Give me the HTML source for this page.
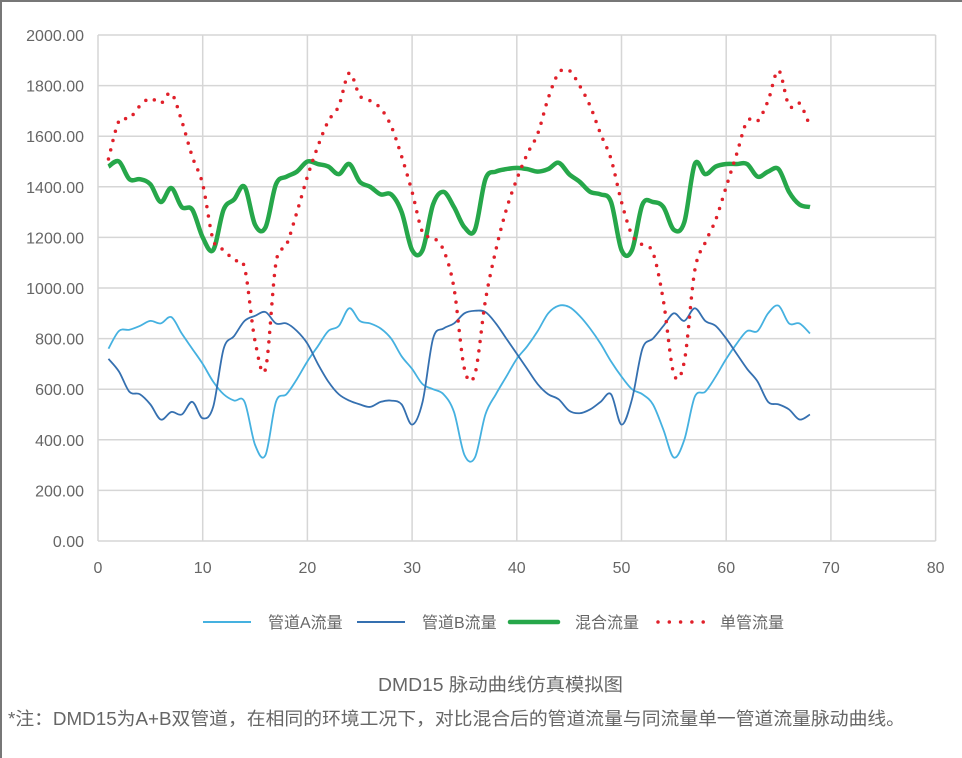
<!DOCTYPE html>
<html><head><meta charset="utf-8"><style>
html,body{margin:0;padding:0;background:#fff}
body{width:962px;height:758px;overflow:hidden;position:relative}
.f{font-family:"Liberation Sans","Noto Sans CJK SC",sans-serif}
</style></head><body>
<div style="position:absolute;left:0;top:0;width:962px;height:758px;border-left:2px solid #777;border-top:2px solid #777;box-sizing:border-box"></div>
<svg id="s" width="962" height="758" style="position:absolute;left:0;top:0" class="f">
<g id="grid" stroke="#d6d6d6" stroke-width="1.5" fill="none"></g>
<g id="lbl" fill="#666" font-size="16" font-family="Liberation Sans, sans-serif"></g>
<g id="lines" fill="none"></g>
<g font-size="16" fill="#666" font-family="Liberation Sans, Noto Sans CJK SC, sans-serif">
<line x1="203" y1="622" x2="251" y2="622" stroke="#45b1e0" stroke-width="2"/>
<text x="268" y="628">管道A流量</text>
<line x1="357" y1="622" x2="405" y2="622" stroke="#3570b0" stroke-width="2"/>
<text x="422" y="628">管道B流量</text>
<line x1="510" y1="622" x2="558" y2="622" stroke="#26a74a" stroke-width="4.5" stroke-linecap="round"/>
<text x="575" y="628">混合流量</text>
<line x1="658" y1="622" x2="704" y2="622" stroke="#e0202a" stroke-width="3.5" stroke-linecap="round" stroke-dasharray="0 11.3"/>
<text x="720" y="628">单管流量</text>
</g>
<text x="378" y="691" textLength="245" lengthAdjust="spacingAndGlyphs" font-size="18" fill="#666" font-family="Liberation Sans, Noto Sans CJK SC, sans-serif">DMD15 脉动曲线仿真模拟图</text>
<text x="8" y="725" textLength="897" lengthAdjust="spacingAndGlyphs" font-size="18" fill="#666" font-family="Liberation Sans, Noto Sans CJK SC, sans-serif">*注：DMD15为A+B双管道，在相同的环境工况下，对比混合后的管道流量与同流量单一管道流量脉动曲线。</text>
</svg>
<script>
var X=v=>98+10.47*v, Y=v=>541-0.253*v;
var g=document.getElementById('grid'),l=document.getElementById('lbl'),NS='http://www.w3.org/2000/svg';
function el(p,t,a,txt){var e=document.createElementNS(NS,t);for(var k in a)e.setAttribute(k,a[k]);if(txt!=null)e.textContent=txt;p.appendChild(e);return e;}
for(var i=0;i<=10;i++){var y=Y(i*200);el(g,'line',{x1:X(0),x2:X(80),y1:y,y2:y});el(l,'text',{x:84,y:y+6,'text-anchor':'end'},(i*200).toFixed(2));}
for(var i=0;i<=8;i++){var x=X(i*10);el(g,'line',{x1:x,x2:x,y1:Y(0),y2:Y(2000)});el(l,'text',{x:x,y:573,'text-anchor':'middle'},i*10);}
var A=[760,830,835,850,870,860,885,820,760,700,630,580,555,550,380,340,550,580,640,710,770,830,850,920,870,860,840,800,730,680,620,600,580,510,340,330,500,580,650,720,770,830,900,930,925,890,840,780,710,650,600,580,540,440,330,400,570,590,650,720,780,830,830,900,930,860,860,820];
var B=[720,670,590,580,540,480,510,500,550,485,530,760,810,870,890,905,860,860,830,780,700,630,580,555,540,530,550,555,540,460,550,800,840,860,900,910,905,860,800,740,680,620,580,560,515,505,520,550,580,460,560,760,800,850,900,870,920,870,850,800,740,680,630,550,540,520,480,500];
var G=[1480,1500,1430,1430,1410,1340,1395,1320,1310,1200,1150,1310,1350,1400,1250,1240,1410,1440,1460,1500,1490,1480,1450,1490,1420,1400,1370,1370,1300,1150,1150,1330,1380,1320,1240,1230,1430,1460,1470,1475,1470,1460,1470,1495,1450,1420,1380,1370,1340,1150,1150,1330,1340,1320,1230,1260,1490,1450,1480,1490,1490,1490,1440,1460,1470,1380,1330,1320];
var R=[1510,1660,1670,1720,1750,1730,1770,1660,1520,1410,1190,1150,1110,1080,790,680,1100,1170,1300,1440,1560,1660,1720,1850,1760,1740,1710,1640,1520,1380,1220,1200,1150,1000,680,660,950,1150,1310,1430,1530,1610,1750,1850,1860,1800,1720,1610,1510,1340,1210,1170,1140,950,660,710,1070,1180,1270,1400,1530,1660,1660,1740,1860,1720,1730,1640];
function path(d){var p=d.map((v,i)=>[X(i+1),Y(v)]);var s='M'+p[0][0]+','+p[0][1];
for(var i=0;i<p.length-1;i++){var p0=p[i-1]||p[i],p1=p[i],p2=p[i+1],p3=p[i+2]||p2;
s+=' C'+(p1[0]+(p2[0]-p0[0])/6)+','+(p1[1]+(p2[1]-p0[1])/6)+' '+(p2[0]-(p3[0]-p1[0])/6)+','+(p2[1]-(p3[1]-p1[1])/6)+' '+p2[0]+','+p2[1];}return s;}
var L=document.getElementById('lines');
el(L,'path',{d:path(A),stroke:'#45b1e0','stroke-width':1.8});
el(L,'path',{d:path(B),stroke:'#3570b0','stroke-width':1.8});
el(L,'path',{d:path(G),stroke:'#26a74a','stroke-width':4.5,'stroke-linejoin':'round'});
el(L,'path',{d:path(R),stroke:'#e0202a','stroke-width':3.5,'stroke-linecap':'round','stroke-dasharray':'0 9.5'});
</script>
</body></html>
